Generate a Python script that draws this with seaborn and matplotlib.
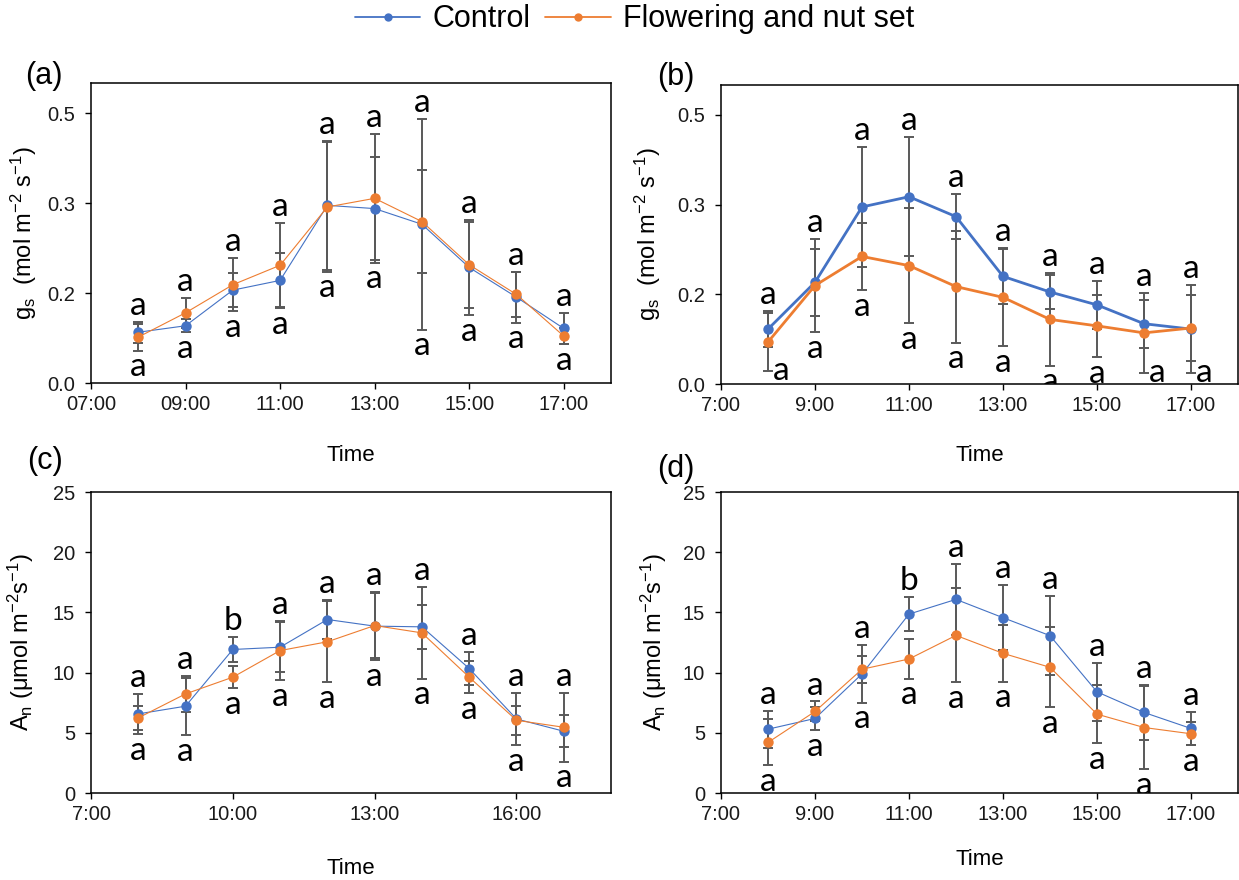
import matplotlib
matplotlib.use("Agg")
import matplotlib.pyplot as plt
import numpy as np
import pandas as pd
import seaborn as sns
from matplotlib.lines import Line2D
from matplotlib.ticker import FormatStrFormatter

sns.set_theme(style="white")
plt.rcParams["font.family"] = ["Liberation Sans", "DejaVu Sans"]
plt.rcParams["mathtext.fontset"] = "custom"
plt.rcParams["mathtext.rm"] = "Liberation Sans"
plt.rcParams["mathtext.it"] = "Liberation Sans:italic"
plt.rcParams["text.color"] = "black"
plt.rcParams["axes.labelcolor"] = "black"

# ---- data -------------------------------------------------------------
hours = [8, 9, 10, 11, 12, 13, 14, 15, 16, 17]
series_names = ["Control", "Flowering and nut set"]

gs_a_control = [0.094, 0.106, 0.172, 0.190, 0.329, 0.323, 0.294, 0.214, 0.159, 0.101]
gs_a_control_err = [0.019, 0.012, 0.031, 0.051, 0.120, 0.095, 0.195, 0.088, 0.047, 0.028]
gs_a_flower = [0.085, 0.130, 0.182, 0.218, 0.326, 0.342, 0.299, 0.219, 0.164, 0.087]
gs_a_flower_err = [0.025, 0.028, 0.049, 0.078, 0.120, 0.119, 0.095, 0.080, 0.042, 0.015]

gs_b_control = [0.102, 0.189, 0.329, 0.348, 0.311, 0.200, 0.171, 0.147, 0.112, 0.102]
gs_b_control_err = [0.033, 0.062, 0.111, 0.111, 0.042, 0.051, 0.032, 0.045, 0.045, 0.082]
gs_b_flower = [0.078, 0.183, 0.237, 0.220, 0.181, 0.161, 0.120, 0.108, 0.095, 0.104]
gs_b_flower_err = [0.054, 0.087, 0.062, 0.107, 0.104, 0.091, 0.086, 0.058, 0.075, 0.061]

an_c_control = [6.57, 7.21, 11.92, 12.11, 14.41, 13.86, 13.80, 10.34, 6.15, 5.13]
an_c_control_err = [1.66, 2.38, 1.03, 2.08, 1.61, 2.83, 1.80, 1.39, 2.16, 1.33]
an_c_flower = [6.24, 8.23, 9.62, 11.83, 12.56, 13.91, 13.30, 9.62, 6.04, 5.46]
an_c_flower_err = [0.97, 1.47, 0.91, 2.44, 3.38, 2.72, 3.80, 1.33, 1.22, 2.85]

an_d_control = [5.30, 6.19, 9.89, 14.86, 16.08, 14.56, 13.07, 8.40, 6.69, 5.36]
an_d_control_err = [1.55, 0.99, 2.38, 1.44, 2.98, 2.71, 3.31, 2.43, 2.29, 1.35]
an_d_flower = [4.20, 6.77, 10.28, 11.13, 13.09, 11.60, 10.44, 6.55, 5.44, 4.92]
an_d_flower_err = [1.91, 0.83, 1.13, 1.63, 3.90, 2.35, 3.33, 2.43, 3.45, 0.94]

letters_a_top = ["a"] * 10
letters_a_bottom = ["a"] * 10
letters_b_top = ["a"] * 10
letters_b_bottom = ["a"] * 10
letters_c_top = ["a", "a", "b", "a", "a", "a", "a", "a", "a", "a"]
letters_c_bottom = ["a"] * 10
letters_d_top = ["a", "a", "a", "b", "a", "a", "a", "a", "a", "a"]
letters_d_bottom = ["a"] * 10

ticks_2h = [7, 9, 11, 13, 15, 17]
ticks_3h = [7, 10, 13, 16]
labels_a = ["07:00", "09:00", "11:00", "13:00", "15:00", "17:00"]
labels_b = ["7:00", "9:00", "11:00", "13:00", "15:00", "17:00"]
labels_c = ["7:00", "10:00", "13:00", "16:00"]
labels_d = ["7:00", "9:00", "11:00", "13:00", "15:00", "17:00"]

gs_ticks = [0, 1 / 6, 2 / 6, 3 / 6]
an_ticks = [0, 5, 10, 15, 20, 25]

# ---- styling ------------------------------------------------------------
BLUE = "#4472C4"
ORANGE = "#ED7D31"
ERR = "#595959"
palette = {series_names[0]: BLUE, series_names[1]: ORANGE}

W, H = 1239, 880
fig = plt.figure(figsize=(W / 100, H / 100), dpi=100)


def px_axes(left, top, right, bottom):
    return fig.add_axes([left / W, 1 - bottom / H, (right - left) / W, (bottom - top) / H])


def draw_panel(ax, ctrl, ctrl_err, flow, flow_err, top_letters, bottom_letters,
               ylim, yticks, yfmt, xticks, xlabels, ylabel, lw, ylab_x, xlab_y):
    df = pd.DataFrame({
        "hour": hours * 2,
        "value": list(ctrl) + list(flow),
        "series": [series_names[0]] * len(hours) + [series_names[1]] * len(hours),
    })
    for vals, errs in ((ctrl, ctrl_err), (flow, flow_err)):
        ax.errorbar(hours, vals, yerr=errs, fmt="none", ecolor=ERR, elinewidth=1.4,
                    capsize=3.5, capthick=1.4, zorder=1.5)
    sns.lineplot(data=df, x="hour", y="value", hue="series", palette=palette,
                 marker="o", markersize=7.5, markeredgewidth=0, linewidth=lw,
                 legend=False, errorbar=None, ax=ax, zorder=3)

    ax.set_xlim(7, 18)
    ax.set_ylim(*ylim)
    ax.set_xticks(xticks)
    ax.set_xticklabels(xlabels)
    ax.set_yticks(yticks)
    if yfmt:
        ax.yaxis.set_major_formatter(FormatStrFormatter(yfmt))
    ax.tick_params(axis="both", which="major", direction="out", length=4.5, width=1.0,
                   color="black", labelsize=14.5, labelcolor="#1a1a1a")
    ax.tick_params(axis="x", pad=4)
    ax.tick_params(axis="y", pad=7)
    ax.tick_params(bottom=True, left=True)
    for s in ax.spines.values():
        s.set_visible(True)
        s.set_color("black")
        s.set_linewidth(1.1)

    ax.set_xlabel("Time", fontsize=16)
    ax.xaxis.set_label_coords(0.5, xlab_y)
    ax.set_ylabel(ylabel, fontsize=17)
    ax.yaxis.set_label_coords(ylab_x, 0.5)

    # significance letters above / below the error bars
    fig.canvas.draw()
    y0, y1 = ax.get_ylim()
    ax_h_px = ax.get_window_extent().height
    per_px = (y1 - y0) / ax_h_px
    upper = np.maximum(np.array(ctrl) + np.array(ctrl_err), np.array(flow) + np.array(flow_err))
    lower = np.minimum(np.array(ctrl) - np.array(ctrl_err), np.array(flow) - np.array(flow_err))
    style = dict(textcoords="offset points", ha="center", va="baseline", fontsize=24,
                 family="Lato", color="black", annotation_clip=False)
    for h, up, lo, tl, bl in zip(hours, upper, lower, top_letters, bottom_letters):
        ax.annotate(tl, xy=(h, up), xytext=(0, 5.0), **style)
        center = lo - 16 * per_px
        if center < y0:
            ax.annotate(bl, xy=(h, lo), xytext=(9.5, -6.3), **style)
        else:
            ax.annotate(bl, xy=(h, lo), xytext=(0, -18.5), clip_on=True, **style)


gs_label = r"g$_\mathregular{s}$  (mol m$^\mathregular{-2}$ s$^\mathregular{-1}$)"
an_label = r"A$_\mathregular{n}$ (μmol m$^\mathregular{-2}$s$^\mathregular{-1}$)"

ax_a = px_axes(91, 83, 611, 383)
draw_panel(ax_a, gs_a_control, gs_a_control_err, gs_a_flower, gs_a_flower_err,
           letters_a_top, letters_a_bottom, (0, 0.5556), gs_ticks, "%.1f",
           ticks_2h, labels_a, gs_label, 0.8, -0.100, -0.205)

ax_b = px_axes(721, 85, 1238, 384)
draw_panel(ax_b, gs_b_control, gs_b_control_err, gs_b_flower, gs_b_flower_err,
           letters_b_top, letters_b_bottom, (0, 0.5556), gs_ticks, "%.1f",
           ticks_2h, labels_b, gs_label, 2.0, -0.112, -0.205)

ax_c = px_axes(91, 492, 611, 793)
draw_panel(ax_c, an_c_control, an_c_control_err, an_c_flower, an_c_flower_err,
           letters_c_top, letters_c_bottom, (0, 25), an_ticks, None,
           ticks_3h, labels_c, an_label, 0.8, -0.106, -0.215)

ax_d = px_axes(721, 492, 1238, 793)
draw_panel(ax_d, an_d_control, an_d_control_err, an_d_flower, an_d_flower_err,
           letters_d_top, letters_d_bottom, (0, 25), an_ticks, None,
           ticks_2h, labels_d, an_label, 0.8, -0.100, -0.185)

# panel tags
for tag, (x, y) in {"(a)": (44, 76), "(b)": (676, 77), "(c)": (45, 461), "(d)": (676, 469)}.items():
    fig.text(x / W, 1 - y / H, tag, fontsize=22, ha="center", va="center", color="black")

# shared legend
handles = [Line2D([0], [0], color=BLUE, lw=1.3, marker="o", markersize=6, markeredgewidth=0),
           Line2D([0], [0], color=ORANGE, lw=1.3, marker="o", markersize=6, markeredgewidth=0)]
leg = fig.legend(handles, series_names, loc="center", bbox_to_anchor=(0.512, 0.978), ncol=2,
                 frameon=False, fontsize=22, handlelength=2.15, handletextpad=0.38,
                 columnspacing=0.5, borderaxespad=0, borderpad=0)
for t in leg.get_texts():
    t.set_color("black")

fig.savefig("out.png", dpi=100, facecolor="white")
